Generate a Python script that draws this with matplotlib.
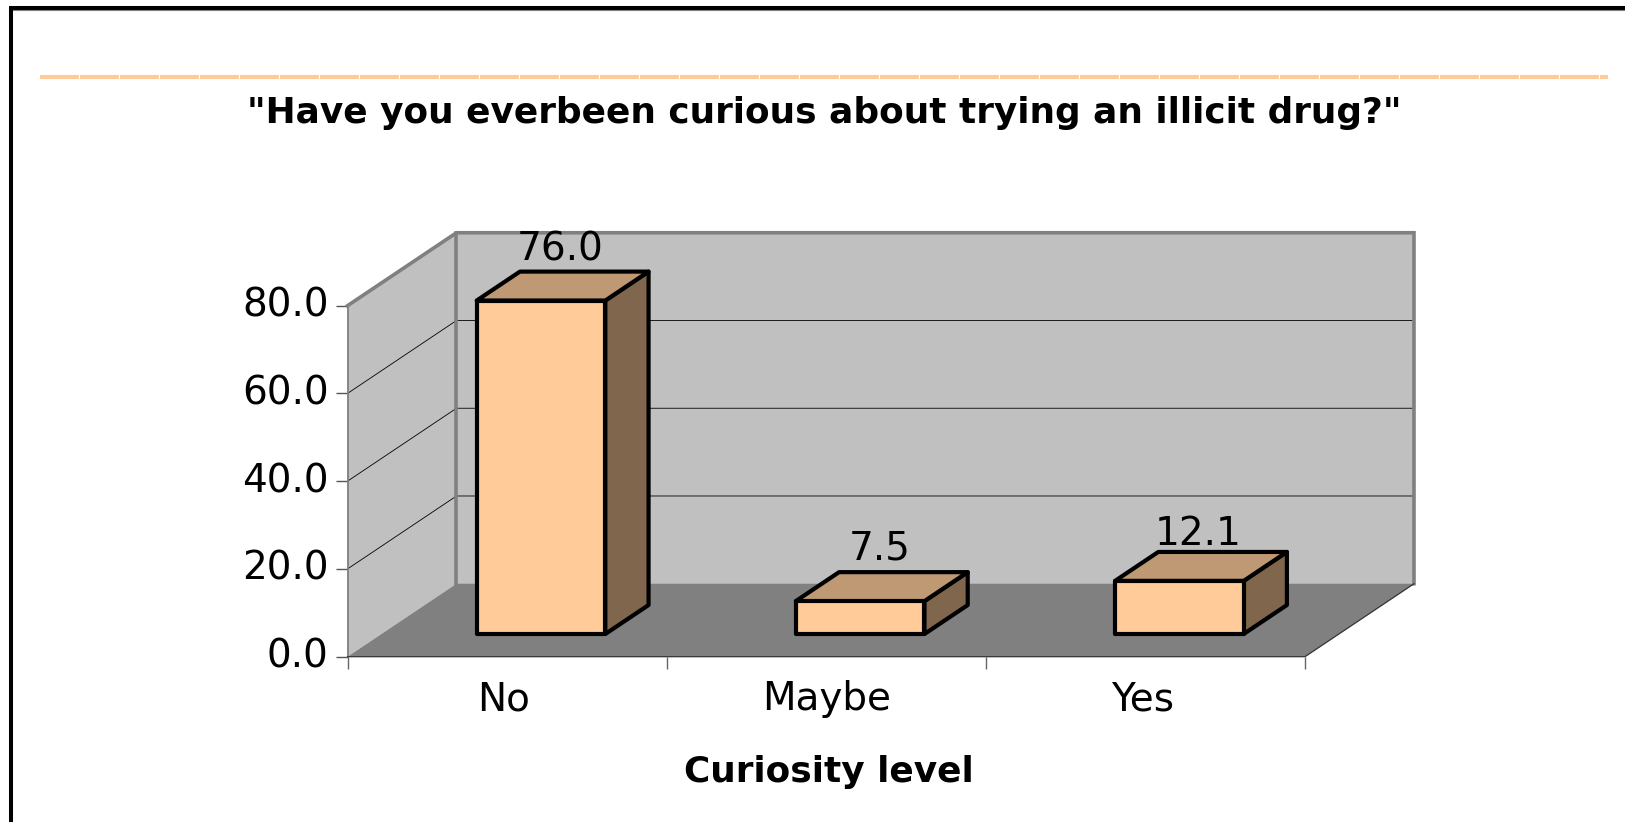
import matplotlib
matplotlib.use("Agg")
import matplotlib.pyplot as plt
from matplotlib.lines import Line2D
from matplotlib.patches import Polygon
from matplotlib.transforms import ScaledTranslation

plt.rcParams['font.family'] = ['DejaVu Sans']
plt.rcParams['lines.scale_dashes'] = False

categories = ['No', 'Maybe', 'Yes']
values = [76.0, 7.5, 12.1]
y_ticks = [0, 20, 40, 60, 80]

title = '"Have you everbeen curious about trying an illicit drug?"'
x_title = 'Curiosity level'

W, H = 1625, 822
DEPTH_X = 109 / 319.2
DEPTH_Y = 73 / 4.39
BAR_W = 0.403
BAR_D0, BAR_D1 = 0.311, 0.708


def px(x, y):
    return x / W, 1 - y / H


def proj(x, y, d):
    # oblique projection, d=0 front plane, d=1 back wall
    return x + d * DEPTH_X, y + d * DEPTH_Y


fig = plt.figure(figsize=(W / 100, H / 100), dpi=100, facecolor='white')
ax = fig.add_axes([347.5 / W, 1 - 656.7 / H, 957.5 / W, 351 / H])
ax.set_xlim(0, 3)
ax.set_ylim(0, 80)
ax.patch.set_visible(False)
for s in ax.spines.values():
    s.set_visible(False)

# frame and orange rule
fig.add_artist(Line2D([px(11, 0)[0], px(11, 0)[0], 1], [px(0, 822)[1], px(0, 8)[1], px(0, 8)[1]],
                      color='black', lw=2.9, solid_joinstyle='miter'))
fig.add_artist(Line2D([px(13, 0)[0], 1], [px(0, 10.5)[1]] * 2, color='#808080', lw=0.8))
fig.add_artist(Line2D([40 / W, 1608 / W], [px(0, 77)[1]] * 2, color='#FFCC99', lw=2.9,
                      dashes=(28.0, 0.8), dash_capstyle='butt'))

# walls and floor
ax.add_patch(Polygon([proj(0, 0, 0), proj(0, 80, 0), proj(0, 80, 1), proj(0, 0, 1)],
                     fc='#C0C0C0', ec='none', clip_on=False, zorder=1))
ax.add_patch(Polygon([proj(0, 0, 1), proj(0, 80, 1), proj(3, 80, 1), proj(3, 0, 1)],
                     fc='#C0C0C0', ec='none', clip_on=False, zorder=1))
ax.add_patch(Polygon([proj(0, 0, 0), proj(3, 0, 0), proj(3, 0, 1), proj(0, 0, 1)],
                     fc='#808080', ec='none', clip_on=False, zorder=1))

# gridlines
for t in y_ticks[1:-1]:
    xs, ys = zip(proj(0, t, 0), proj(0, t, 1), proj(3, t, 1))
    ax.plot(xs, ys, color='black', lw=0.6, clip_on=False, zorder=2)

# wall outlines
xs, ys = zip(proj(0, 80, 0), proj(0, 80, 1), proj(3, 80, 1), proj(3, 0, 1))
ax.plot(xs, ys, color='#808080', lw=2.6, clip_on=False, zorder=3, solid_joinstyle='miter')
xs, ys = zip(proj(0, 80, 1), proj(0, 0, 1))
ax.plot(xs, ys, color='#808080', lw=2.6, clip_on=False, zorder=3)
ax.plot([0, 0], [0, 80], color='#808080', lw=1.3, clip_on=False, zorder=3)
xs, ys = zip(proj(0, 0, 0), proj(3, 0, 0), proj(3, 0, 1))
ax.plot(xs, ys, color='#333333', lw=0.9, clip_on=False, zorder=3)

# bars
label_gap = [11, 13, 7]
for i, v in enumerate(values):
    x0 = i + 0.5 - BAR_W / 2
    x1 = i + 0.5 + BAR_W / 2
    side = [proj(x1, 0, BAR_D0), proj(x1, v, BAR_D0), proj(x1, v, BAR_D1), proj(x1, 0, BAR_D1)]
    top = [proj(x0, v, BAR_D0), proj(x1, v, BAR_D0), proj(x1, v, BAR_D1), proj(x0, v, BAR_D1)]
    front = [proj(x0, 0, BAR_D0), proj(x1, 0, BAR_D0), proj(x1, v, BAR_D0), proj(x0, v, BAR_D0)]
    for pts, col in [(side, '#80664D'), (top, '#BF9973'), (front, '#FFCC99')]:
        ax.add_patch(Polygon(pts, fc=col, ec='black', lw=3, joinstyle='round',
                             clip_on=False, zorder=4))
    ax.annotate(f'{v:.1f}', proj(i + 0.5, v, BAR_D1), xytext=(-24 * 0.72, label_gap[i] * 0.72),
                textcoords='offset points', ha='center', va='baseline', fontsize=28,
                annotation_clip=False, zorder=5)

# axes ticks
ax.set_yticks(y_ticks)
ax.set_yticklabels([f'{t:.1f}' for t in y_ticks], fontsize=28)
ax.tick_params(axis='y', length=8.6, width=1, color='#555555', pad=5)
for lab in ax.get_yticklabels():
    lab.set_transform(lab.get_transform() + ScaledTranslation(0, 3 / 72, fig.dpi_scale_trans))
ax.set_xticks([0, 1, 2, 3])
ax.set_xticklabels([])
ax.tick_params(axis='x', which='major', length=8.6, width=1, color='#666666')
ax.set_xticks([0.49, 1.5, 2.49], minor=True)
ax.set_xticklabels(categories, minor=True, fontsize=28)
ax.tick_params(axis='x', which='minor', length=0, pad=17)

fig.text(*px(829, 782), x_title, ha='center', va='baseline', fontsize=25.8, fontweight='bold')
fig.text(*px(824, 122.5), title, ha='center', va='baseline', fontsize=25.8, fontweight='bold')

fig.savefig('out.png', dpi=100, facecolor='white')
